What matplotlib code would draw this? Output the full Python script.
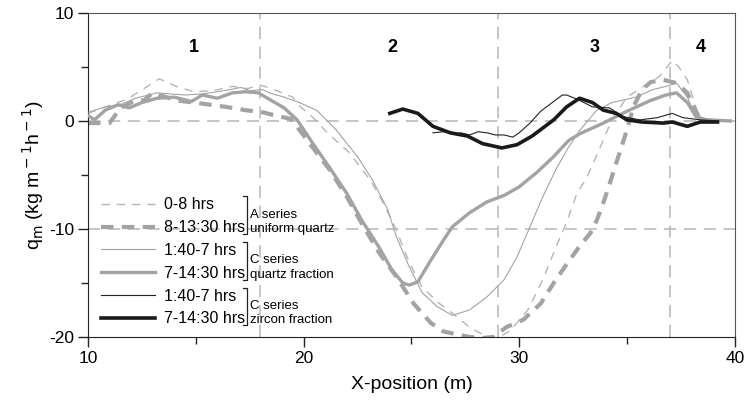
import matplotlib
matplotlib.use("Agg")
import matplotlib.pyplot as plt

plt.rcParams['font.family'] = ['Liberation Sans', 'DejaVu Sans']
plt.rcParams['axes.unicode_minus'] = False

# A series, uniform quartz, 0-8 hrs
a1_x = [10, 10.8, 11.8, 12.6, 13.3, 14.1, 14.9, 15.8, 16.7, 17.4, 18.0, 18.5, 19.0, 19.5, 19.8,
        20.5, 21.1, 22.1, 23.1, 23.7, 24.3, 24.9, 25.5, 26.3, 26.9, 27.7, 28.5, 29.0, 29.6, 30.4,
        31.1, 31.7, 32.2, 32.7, 33.1, 33.7, 34.3, 35.0, 35.7, 36.5, 37.1, 37.4, 37.8, 38.4, 39.0, 39.8]
a1_y = [0.7, 1.3, 2.0, 3.0, 3.9, 3.2, 2.7, 2.8, 3.2, 3.0, 3.3, 3.0, 2.6, 2.2, 1.4,
        0.2, -1.1, -2.9, -5.5, -7.6, -10.1, -13.1, -15.4, -16.9, -17.8, -19.1, -20.0, -20.1, -19.4, -17.5,
        -14.7, -11.7, -9.4, -6.6, -5.4, -2.7, 0.1, 2.2, 3.1, 4.1, 5.6, 5.0, 3.8, 0.0, 0.0, 0.0]

# A series, uniform quartz, 8-13:30 hrs
a2_x = [10, 10.3, 11.0, 11.5, 12.2, 12.6, 13.0, 14.1, 15.3, 16.4, 17.3, 18.1, 18.9, 19.4, 19.8,
        20.4, 21.2, 22.0, 22.7, 23.5, 24.3, 25.1, 25.9, 26.5, 27.2, 27.7, 28.3, 28.8, 29.4, 30.2,
        31.0, 31.7, 32.3, 32.8, 33.3, 33.6, 33.9, 34.2, 34.5, 34.7, 35.0, 35.3, 35.7, 36.1, 36.7,
        37.3, 37.8, 38.1, 38.4, 39.0, 39.6]
a2_y = [-0.2, -0.2, -0.2, 1.2, 1.9, 1.9, 2.6, 1.9, 1.6, 1.3, 1.0, 0.8, 0.4, 0.2, -0.8,
        -2.4, -4.5, -7.0, -9.5, -12.2, -14.4, -16.9, -18.7, -19.5, -19.8, -20.0, -20.1, -20.0, -19.1, -18.4,
        -16.9, -14.7, -13.0, -11.6, -10.4, -9.2, -7.6, -5.8, -3.9, -2.7, -0.8, 1.3, 2.9, 3.6, 3.8,
        3.5, 2.6, 1.3, 0.1, 0.0, 0.0]

# C series, quartz fraction, 1:40-7 hrs
c1_x = [10, 10.8, 11.5, 12.2, 13.2, 14.5, 15.3, 16.0, 16.6, 17.1, 17.5, 18.1, 18.4, 19.1, 19.8,
        20.6, 21.5, 22.5, 23.2, 23.9, 24.3, 24.9, 25.5, 26.2, 26.9, 27.7, 28.5, 29.3, 29.9, 30.5,
        31.1, 31.7, 32.3, 32.8, 33.6, 34.3, 35.4, 36.2, 36.8, 37.3, 37.8, 38.2, 38.7, 39.8]
c1_y = [0.8, 1.3, 1.5, 2.1, 2.6, 2.4, 2.5, 2.7, 2.9, 3.1, 2.8, 2.9, 2.6, 2.2, 1.7,
        1.0, -0.8, -3.3, -5.5, -8.2, -10.7, -13.5, -15.9, -17.2, -18.0, -17.5, -16.3, -14.7, -12.6, -9.8,
        -7.0, -4.5, -2.4, -0.9, 1.0, 1.7, 2.2, 2.9, 3.2, 3.5, 2.2, 0.4, 0.1, 0.0]

# C series, quartz fraction, 7-14:30 hrs
c2_x = [10, 10.3, 10.8, 11.4, 11.9, 12.5, 13.2, 14.0, 14.8, 15.3, 16.0, 16.7, 17.3, 17.9, 18.5,
        19.1, 19.7, 20.4, 21.2, 22.0, 22.7, 23.5, 24.1, 24.6, 24.9, 25.3, 25.9, 26.5, 26.9, 27.7,
        28.5, 29.3, 30.0, 30.8, 31.6, 32.3, 32.8, 33.9, 35.0, 36.1, 36.8, 37.3, 37.8, 38.2, 38.7, 39.8]
c2_y = [0.5, 0.1, 1.0, 1.5, 1.2, 1.7, 2.1, 2.2, 1.8, 2.4, 2.1, 2.6, 2.7, 2.6, 1.9,
        1.2, 0.1, -2.0, -4.3, -6.7, -9.2, -11.7, -13.8, -15.0, -15.2, -14.9, -12.9, -11.0, -9.8, -8.5,
        -7.5, -6.9, -6.1, -4.8, -3.3, -1.8, -1.2, -0.2, 0.9, 1.9, 2.4, 2.6, 1.7, 0.4, 0.1, 0.0]

# C series, zircon fraction, 1:40-7 hrs
z1_x = [26.0, 26.5, 26.9, 27.3, 27.7, 28.1, 28.5, 28.9, 29.3, 29.7, 30.0, 30.5, 31.0, 31.6, 32.0,
        32.2, 32.7, 33.4, 34.2, 34.8, 35.6, 36.4, 37.1, 37.6, 38.4, 39.2]
z1_y = [-1.1, -1.0, -1.2, -1.1, -1.3, -1.0, -1.1, -1.3, -1.3, -1.5, -1.1, -0.2, 0.9, 1.8, 2.4,
        2.4, 2.0, 1.3, 1.2, 0.4, 0.1, 0.3, 0.7, 0.3, 0.1, 0.0]

# C series, zircon fraction, 7-14:30 hrs
z2_x = [24.0, 24.6, 25.3, 26.0, 26.8, 27.6, 28.3, 29.2, 29.9, 30.6, 31.0, 31.6, 32.2, 32.8, 33.4,
        33.9, 34.5, 35.0, 35.7, 36.7, 37.1, 37.8, 38.4, 39.2]
z2_y = [0.7, 1.1, 0.7, -0.5, -1.1, -1.4, -2.1, -2.5, -2.2, -1.4, -0.8, 0.1, 1.3, 2.1, 1.7,
        1.0, 0.7, 0.1, -0.1, -0.2, -0.1, -0.5, -0.1, -0.1]

series_labels = ['0-8 hrs', '8-13:30 hrs', '1:40-7 hrs', '7-14:30 hrs', '1:40-7 hrs', '7-14:30 hrs']
group_labels = [('A series', 'uniform quartz'), ('C series', 'quartz fraction'), ('C series', 'zircon fraction')]

zone_names = ['1', '2', '3', '4']
zone_x = [14.9, 24.1, 33.5, 38.4]
zone_y = 6.8
zone_edges = [18, 29, 37]
ref_levels = [0, -10]

GREY = '#a3a3a3'
LIGHT = '#b5b5b5'
fig, ax = plt.subplots(figsize=(7.49, 4.04), dpi=100)
fig.subplots_adjust(left=0.1175, right=0.981, top=0.968, bottom=0.166)

# reference dashed lines
for lv in ref_levels:
    ax.axhline(lv, color=LIGHT, lw=1.1, dashes=(8, 5), zorder=1)
for xe in zone_edges:
    ax.axvline(xe, color=LIGHT, lw=1.1, dashes=(8, 5), zorder=1)

l1, = ax.plot(a1_x, a1_y, color=LIGHT, lw=1.0, dashes=(6, 5), zorder=2)
l2, = ax.plot(a2_x, a2_y, color=GREY, lw=3.0, dashes=(3, 2), zorder=2)
l3, = ax.plot(c1_x, c1_y, color=GREY, lw=0.8, zorder=3)
l4, = ax.plot(c2_x, c2_y, color=GREY, lw=2.4, zorder=3)
l5, = ax.plot(z1_x, z1_y, color='#222222', lw=0.8, zorder=4)
l6, = ax.plot(z2_x, z2_y, color='#1a1a1a', lw=2.6, zorder=4)

for name, zx in zip(zone_names, zone_x):
    ax.text(zx, zone_y, name, fontsize=13, fontweight='bold', ha='center', va='center')

ax.set_xlim(10, 40)
ax.set_ylim(-20, 10)
ax.set_xticks([10, 20, 30, 40])
ax.set_xticks([15, 25, 35], minor=True)
ax.set_yticks([-20, -10, 0, 10])
ax.set_yticks([-15, -5, 5], minor=True)
ax.tick_params(which='major', length=7, width=1, labelsize=12.5, color='#222222', pad=3)
ax.tick_params(which='minor', length=5, width=1, color='#222222')
for s in ['left', 'bottom']:
    ax.spines[s].set_color('#222222')
for s in ['top', 'right']:
    ax.spines[s].set_color('#555555')

ax.set_xlabel('X-position (m)', fontsize=14, labelpad=7)
ax.set_ylabel(r'q$_{\rm m}$ (kg m$^{\rm -1}$h$^{\rm -1}$)', fontsize=14, labelpad=2)

leg = ax.legend([l1, l2, l3, l4, l5, l6], series_labels, loc='upper left',
                bbox_to_anchor=(0.02, 0.431), frameon=False, fontsize=11.5,
                handlelength=3.4, handletextpad=0.55, labelspacing=0.49,
                borderpad=0, borderaxespad=0)

# brackets grouping legend rows, placed from the rendered label boxes
fig.canvas.draw()
r = fig.canvas.get_renderer()
inv = ax.transAxes.inverted()
texts = leg.get_texts()
right_edge = max(t.get_window_extent(r).x1 for t in texts)
for g in range(3):
    b_top = texts[2 * g].get_window_extent(r)
    b_bot = texts[2 * g + 1].get_window_extent(r)
    x0 = right_edge + 2
    y_hi = b_top.y1 + 1
    y_lo = b_bot.y0 + 1
    pts = inv.transform([(x0 - 4, y_hi), (x0, y_hi), (x0, y_lo), (x0 - 4, y_lo)])
    ax.plot(pts[:, 0], pts[:, 1], color='#222222', lw=0.9, transform=ax.transAxes, clip_on=False)
    yc = (b_bot.y0 + b_bot.y1) / 2 - 1.5
    tx, ty2 = inv.transform((x0 + 3, yc))
    _, ty1 = inv.transform((x0 + 3, yc + 14.5))
    ax.text(tx, ty1, group_labels[g][0], transform=ax.transAxes, fontsize=9.5, ha='left', va='center')
    ax.text(tx, ty2, group_labels[g][1], transform=ax.transAxes, fontsize=9.5, ha='left', va='center')

fig.savefig('out.png', dpi=100)
